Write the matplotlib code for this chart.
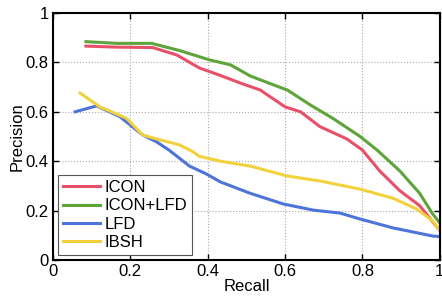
import matplotlib
matplotlib.use('Agg')
import matplotlib.pyplot as plt

plt.rcParams['font.family'] = ['Liberation Sans', 'DejaVu Sans']

# precision-recall curves
icon_r = [0.085, 0.16, 0.258, 0.32, 0.379, 0.433, 0.485, 0.536, 0.60, 0.64, 0.69, 0.76, 0.80, 0.845, 0.897, 0.948, 0.98, 1.0]
icon_p = [0.866, 0.862, 0.86, 0.83, 0.777, 0.747, 0.716, 0.688, 0.62, 0.60, 0.54, 0.49, 0.445, 0.36, 0.28, 0.22, 0.158, 0.12]

both_r = [0.085, 0.165, 0.255, 0.327, 0.405, 0.459, 0.51, 0.56, 0.606, 0.665, 0.724, 0.794, 0.838, 0.897, 0.948, 0.98, 1.0]
both_p = [0.884, 0.877, 0.877, 0.848, 0.81, 0.79, 0.745, 0.715, 0.688, 0.628, 0.573, 0.50, 0.445, 0.36, 0.27, 0.19, 0.15]

lfd_r = [0.057, 0.113, 0.173, 0.232, 0.268, 0.30, 0.353, 0.397, 0.433, 0.51, 0.595, 0.673, 0.742, 0.794, 0.879, 0.982, 1.0]
lfd_p = [0.60, 0.624, 0.58, 0.506, 0.478, 0.445, 0.38, 0.348, 0.316, 0.27, 0.227, 0.202, 0.19, 0.166, 0.13, 0.097, 0.095]

ibsh_r = [0.07, 0.121, 0.19, 0.232, 0.268, 0.327, 0.36, 0.378, 0.433, 0.51, 0.606, 0.69, 0.794, 0.879, 0.94, 0.982, 1.0]
ibsh_p = [0.676, 0.62, 0.574, 0.506, 0.49, 0.466, 0.44, 0.42, 0.40, 0.38, 0.34, 0.32, 0.287, 0.25, 0.207, 0.158, 0.12]

ticks = [0, 0.2, 0.4, 0.6, 0.8, 1]
tick_labels = ['0', '0.2', '0.4', '0.6', '0.8', '1']

fig = plt.figure(figsize=(4.42, 3.02), dpi=100)
ax = fig.add_axes([0.12, 0.139, 0.875, 0.818])

ax.plot(icon_r, icon_p, color='#e8506a', lw=2.2, label='ICON')
ax.plot(both_r, both_p, color='#5da43a', lw=2.2, label='ICON+LFD')
ax.plot(lfd_r, lfd_p, color='#4d74d9', lw=2.2, label='LFD')
ax.plot(ibsh_r, ibsh_p, color='#f2d23c', lw=2.2, label='IBSH')

ax.set_xlim(0, 1)
ax.set_ylim(0, 1)
ax.set_xticks(ticks)
ax.set_xticklabels(tick_labels)
ax.set_yticks(ticks)
ax.set_yticklabels(tick_labels)
ax.tick_params(direction='in', top=True, right=True, labelsize=12, length=4, width=1, pad=3)
ax.grid(True, color='#aaaaaa', linestyle=':', linewidth=0.8)
for s in ax.spines.values():
    s.set_linewidth(1.5)
ax.set_xlabel('Recall', fontsize=12, labelpad=0)
ax.set_ylabel('Precision', fontsize=12, labelpad=1)

leg = ax.legend(loc='lower left', fontsize=12, fancybox=False, framealpha=1,
                edgecolor='#555555', handlelength=2.2, handletextpad=0.3,
                borderpad=0.3, labelspacing=0.2, borderaxespad=0.3)
leg.get_frame().set_linewidth(0.8)

fig.savefig('out.png', dpi=100)
